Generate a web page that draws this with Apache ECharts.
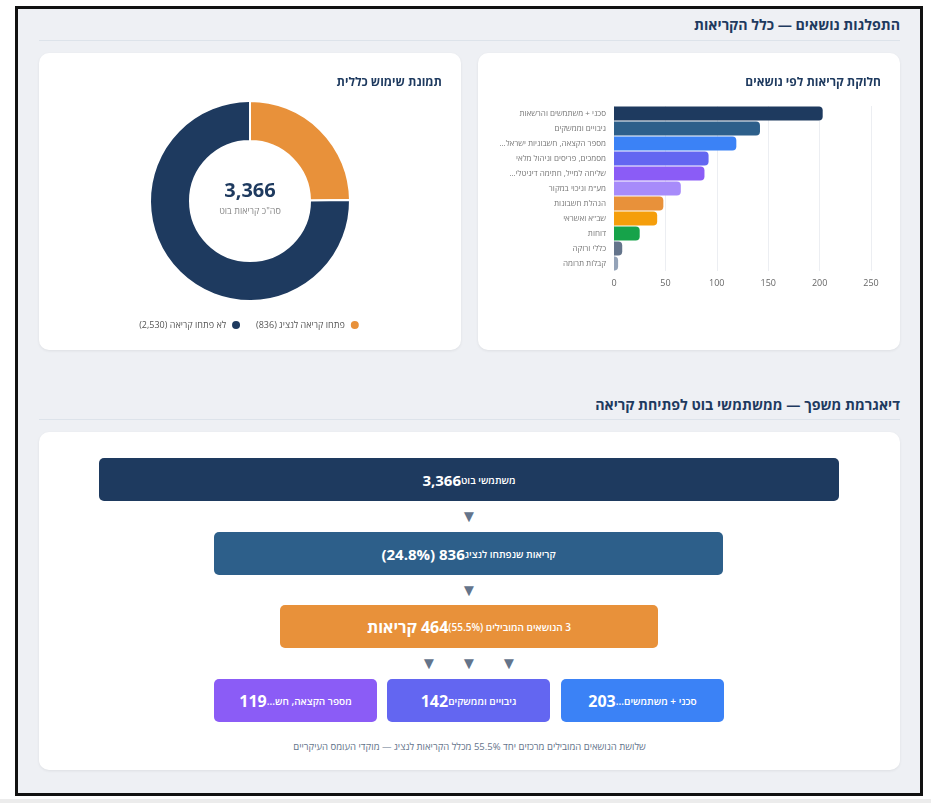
<!DOCTYPE html>
<html lang="he" dir="rtl">
<head>
<meta charset="utf-8">
<title>התפלגות נושאים</title>
<script src="https://cdn.jsdelivr.net/npm/echarts@6/dist/echarts.min.js"></script>
<style>
    * { box-sizing: border-box; }
    html, body { margin: 0; padding: 0; width: 931px; height: 803px; background: #fff; overflow: hidden; }
    body { font-family: "Open Sans", "Liberation Sans", Arial, sans-serif; position: relative; }
    .frame { position: absolute; left: 15px; top: 6px; width: 908px; height: 790px; border: 3px solid #111; background: #eef0f4; }
    .bottom-strip { position: absolute; left: 0; top: 799px; width: 931px; height: 4px; background: #ececec; }
    .section-title { position: absolute; right: 31px; font-size: 14.2px; font-weight: 700; color: #1e3a5f; white-space: nowrap; }
    .rule { position: absolute; left: 39px; width: 861px; height: 1px; background: #dde3ea; }
    .card { position: absolute; background: #fff; border-radius: 10px; box-shadow: 0 1px 3px rgba(0,0,0,0.07); }
    .chart { position: absolute; left: 0; top: 0; width: 100%; height: 100%; }
    .fbox { position: absolute; height: 43px; border-radius: 5px; color: #fff; display: flex; align-items: center; justify-content: center; white-space: nowrap; }
    .fbox .lbl { font-size: 10px; font-weight: 600; }
    .fbox .num { font-size: 15px; font-weight: 700; }
    .fbox .num.big { font-size: 16px; }
    .fbox .num.mid { font-size: 16px; }
    .arrow { position: absolute; width: 20px; margin-left: -10px; text-align: center; font-size: 17px; color: #64748b; line-height: 18px; }
    .note { position: absolute; left: 39px; width: 861px; text-align: center; font-size: 9.5px; color: #64748b; }
</style>
</head>
<body>
<div class="frame"></div>
<div class="bottom-strip"></div>

<div class="section-title" style="top:15px">התפלגות נושאים — כלל הקריאות</div>
<div class="rule" style="top:40px"></div>

<div class="card" style="left:39px; top:53px; width:422px; height:297px;"><div id="usageChart" class="chart"></div></div>
<div class="card" style="left:478px; top:53px; width:422px; height:297px;"><div id="topicChart" class="chart"></div></div>

<div class="section-title" style="top:395px">דיאגרמת משפך — ממשתמשי בוט לפתיחת קריאה</div>
<div class="rule" style="top:419px"></div>

<div class="card" style="left:39px; top:432px; width:861px; height:338px;"></div>
<div id="funnel"></div>

<script>
// נושאי קריאות
const topicNames = [
    'סכני + משתמשים והרשאות',
    'גיבויים וממשקים',
    'מספר הקצאה, חשבוניות ישראל...',
    'מסמכים, פריסים וניהול מלאי',
    'שליחה למייל, חתימה דיגיטלי...',
    'מע"מ וניכוי במקור',
    'הנהלת חשבונות',
    'שב"א ואשראי',
    'דוחות',
    'כללי ורוקה',
    'קבלות תרומה'
];
const topicCounts = [203, 142, 119, 92, 88, 65, 48, 42, 25, 8, 4];
const topicColors = ['#1e3a5f', '#2d5f8a', '#3b82f6', '#6366f1', '#8b5cf6', '#a78bfa', '#e8913a', '#f59e0b', '#16a34a', '#64748b', '#94a3b8'];
const xTicks = [0, 50, 100, 150, 200, 250];

// תמונת שימוש
const usageNames = ['פתחו קריאה לנציג', 'לא פתחו קריאה'];
const usageValues = [836, 2530];
const usageColors = ['#e8913a', '#1e3a5f'];

// משפך
const funnelStageLabels = ['משתמשי בוט', 'קריאות שנפתחו לנציג', '3 הנושאים המובילים'];
const funnelColors = ['#1e3a5f', '#2d5f8a', '#e8913a'];
const topBoxColors = ['#3b82f6', '#6366f1', '#8b5cf6'];

const FONT = '"Open Sans", "Liberation Sans", Arial, sans-serif';

// פורמט מספרים
function formatNumber(num) {
    return num.toString().replace(/\B(?=(\d{3})+(?!\d))/g, ",");
}

function shortName(name) {
    const clean = name.replace('...', '');
    return clean.length > 15 ? clean.slice(0, 14) + '...' : clean;
}

const totalCalls = usageValues.reduce((a, b) => a + b, 0);
const opened = usageValues[0];

// גרף עוגה
const usageChart = echarts.init(document.getElementById('usageChart'));
usageChart.setOption({
    textStyle: { fontFamily: FONT },
    title: {
        text: 'תמונת שימוש כללית',
        right: 14,
        top: 19,
        textStyle: { fontSize: 12, fontWeight: 'bold', color: '#1e3a5f', fontFamily: FONT }
    },
    graphic: [
        {
            type: 'text', left: 'center', top: 128,
            style: { text: formatNumber(totalCalls), fill: '#1e3a5f', font: 'bold 20px ' + FONT }
        },
        {
            type: 'text', left: 'center', top: 154,
            style: { text: 'סה"כ קריאות בוט', fill: '#888', font: '9px ' + FONT }
        }
    ],
    legend: {
        data: usageNames.slice().reverse(),
        top: 261,
        left: 'center',
        icon: 'circle',
        itemWidth: 10,
        itemHeight: 10,
        itemGap: 14,
        align: 'right',
        textStyle: { fontSize: 9, color: '#555', fontFamily: FONT },
        formatter: name => `${name} (${formatNumber(usageValues[usageNames.indexOf(name)])})`
    },
    series: [{
        type: 'pie',
        radius: [60, 100],
        center: [211, 148],
        startAngle: 90,
        clockwise: true,
        silent: true,
        label: { show: false },
        itemStyle: { borderColor: '#fff', borderWidth: 2 },
        data: usageNames.map((n, i) => ({ name: n, value: usageValues[i], itemStyle: { color: usageColors[i] } }))
    }]
});

// גרף עמודות
const topicChart = echarts.init(document.getElementById('topicChart'));
topicChart.setOption({
    textStyle: { fontFamily: FONT },
    title: {
        text: 'חלוקת קריאות לפי נושאים',
        right: 14,
        top: 19,
        textStyle: { fontSize: 12, fontWeight: 'bold', color: '#1e3a5f', fontFamily: FONT }
    },
    grid: { left: 136, right: 29, top: 53, bottom: 79 },
    xAxis: {
        type: 'value',
        min: xTicks[0],
        max: xTicks[xTicks.length - 1],
        interval: xTicks[1] - xTicks[0],
        axisLine: { show: false },
        axisTick: { show: false },
        axisLabel: { fontSize: 9, color: '#666', margin: 8 },
        splitLine: { lineStyle: { color: '#eceef2' } }
    },
    yAxis: {
        type: 'category',
        inverse: true,
        data: topicNames,
        axisLine: { show: false },
        axisTick: { show: false },
        axisLabel: { fontSize: 8, color: '#777', margin: 8 }
    },
    series: [{
        type: 'bar',
        barWidth: '94%',
        silent: true,
        data: topicCounts.map((v, i) => ({ value: v, itemStyle: { color: topicColors[i], borderRadius: [0, 4, 4, 0] } }))
    }]
});

// משפך
const top3 = topicCounts.slice(0, 3).reduce((a, b) => a + b, 0);
const openedPct = (opened / totalCalls * 100).toFixed(1);
const top3Pct = (top3 / opened * 100).toFixed(1);

function box(left, top, width, color, inner) {
    return `<div class="fbox" style="left:${left}px; top:${top}px; width:${width}px; background:${color};">${inner}</div>`;
}
function arrow(x, y) {
    return `<div class="arrow" style="left:${x}px; top:${y}px;">▼</div>`;
}

let html = '';
html += box(99, 458, 740, funnelColors[0],
    `<span class="lbl">${funnelStageLabels[0]}</span><span class="num">${formatNumber(totalCalls)}</span>`);
html += arrow(469, 507);
html += box(214, 532, 509, funnelColors[1],
    `<span class="lbl">${funnelStageLabels[1]}</span><span class="num">${formatNumber(opened)} (${openedPct}%)</span>`);
html += arrow(469, 581);
html += box(280, 605, 378, funnelColors[2],
    `<span class="lbl">${funnelStageLabels[2]} (${top3Pct}%)</span><span class="num big">${top3} קריאות</span>`);
[429, 469, 509].forEach(x => { html += arrow(x, 654); });
const bottomLefts = [561, 387, 214];
[0, 1, 2].forEach(i => {
    html += box(bottomLefts[i], 679, 163, topBoxColors[i],
        `<span class="lbl">${shortName(topicNames[i])}</span><span class="num mid">${topicCounts[i]}</span>`);
});
html += `<div class="note" style="top:740px">שלושת הנושאים המובילים מרכזים יחד ${top3Pct}% מכלל הקריאות לנציג — מוקדי העומס העיקריים</div>`;
document.getElementById('funnel').innerHTML = html;
</script>
</body>
</html>
